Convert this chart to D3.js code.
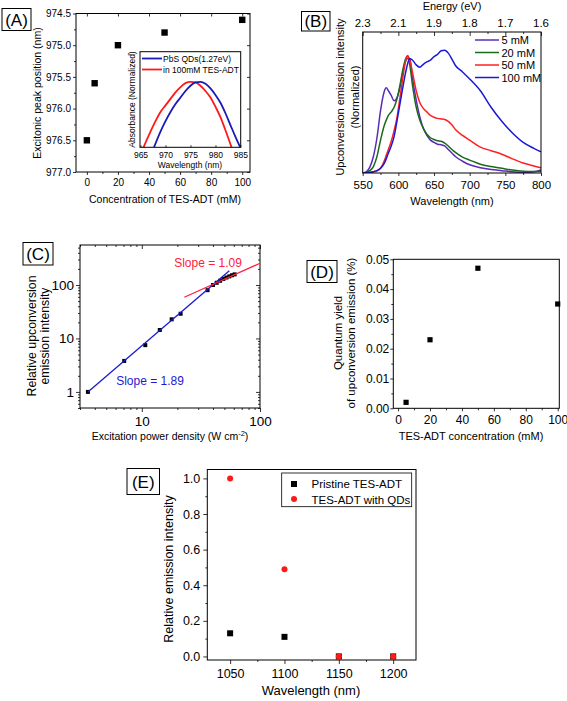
<!DOCTYPE html>
<html><head><meta charset="utf-8">
<script src="https://cdn.jsdelivr.net/npm/d3@7"></script>
<style>body{margin:0;background:#fff} svg{display:block}</style>
</head><body><svg id="c" width="567" height="701"></svg>
<script>
// ---------- DATA ----------
// (A) excitonic peak vs concentration
const aConc = [0, 5, 20, 50, 100];
const aPeak = [976.5, 975.6, 975.0, 974.8, 974.6];
const aXTicks = [0, 20, 40, 60, 80, 100];
const aYTicks = [974.5, 975.0, 975.5, 976.0, 976.5, 977.0];
// (A) inset absorbance
const insetBlueWl  = [967.7, 969, 970, 971, 972, 973, 974, 975, 976, 977, 978, 979, 980, 981, 982, 983, 984, 985.2];
const insetBlueAbs = [0.50, 0.62, 0.70, 0.77, 0.83, 0.88, 0.93, 0.97, 0.995, 1.0, 0.985, 0.95, 0.90, 0.84, 0.76, 0.67, 0.58, 0.48];
const insetRedWl   = [965.6, 967, 968, 969, 970, 971, 972, 973, 974, 975, 976, 977, 978, 979, 980, 981, 982, 983.4];
const insetRedAbs  = [0.50, 0.62, 0.70, 0.77, 0.82, 0.87, 0.92, 0.96, 0.99, 1.0, 0.995, 0.97, 0.93, 0.88, 0.81, 0.73, 0.63, 0.48];
const insetXTicks = [965, 970, 975, 980, 985];
const insetLegend = ["PbS QDs(1.27eV)", "in 100mM TES-ADT"];

// (B) upconversion emission spectra
const bWl = [550,555,560,565,570,575,580,583,586,590,594,598,602,606,610,613,616,620,625,630,635,640,645,650,655,660,665,670,675,680,690,700,715,730,745,760,775,790,800];
const b5mM   = [0.0,0.01,0.05,0.14,0.30,0.53,0.69,0.725,0.70,0.66,0.615,0.64,0.72,0.85,0.95,0.975,0.97,0.80,0.62,0.48,0.38,0.32,0.28,0.26,0.245,0.24,0.23,0.20,0.17,0.14,0.10,0.07,0.045,0.03,0.02,0.01,0.005,0.01,0.025];
const b20mM  = [0.0,0.005,0.02,0.055,0.14,0.28,0.40,0.45,0.49,0.52,0.56,0.63,0.74,0.87,0.97,0.995,0.92,0.74,0.56,0.45,0.38,0.33,0.30,0.285,0.275,0.27,0.255,0.23,0.20,0.175,0.135,0.11,0.075,0.055,0.04,0.025,0.015,0.012,0.015];
const b50mM  = [0.0,0.0,0.003,0.01,0.018,0.04,0.10,0.15,0.20,0.27,0.36,0.47,0.63,0.80,0.95,1.0,0.96,0.85,0.70,0.60,0.55,0.52,0.49,0.475,0.465,0.46,0.456,0.44,0.41,0.37,0.32,0.28,0.22,0.19,0.16,0.12,0.085,0.06,0.045];
const b100mM = [0.0,0.002,0.005,0.01,0.02,0.04,0.08,0.12,0.17,0.23,0.31,0.44,0.58,0.72,0.85,0.93,0.975,0.96,0.92,0.90,0.925,0.945,0.96,0.99,1.01,1.04,1.045,1.02,0.97,0.915,0.86,0.80,0.70,0.56,0.44,0.34,0.26,0.21,0.18];
const bSeriesNames = ["5 mM", "20 mM", "50 mM", "100 mM"];
const bColors = ["#5a2bb8", "#1b6a1b", "#ff2020", "#1a1ad6"];
const bXTicks = [550, 600, 650, 700, 750, 800];
const bEnergyLabels = ["2.3", "2.1", "1.9", "1.8", "1.7", "1.6"];
const bEnergyTickWl = [550, 600, 650, 700, 750, 800];

// (C) power dependence (log-log)
const cPower = [3.5, 7.1, 10.7, 14.2, 17.9, 21.3, 36, 40, 43, 46, 49, 52, 55, 58, 61];
const cInt   = [1, 3.8, 7.5, 14.4, 22.8, 29, 80, 100, 110, 120, 130, 138, 145, 152, 158];
const cFitLowX = [3.5, 55];
const cFitLowY = [1, 185];
const cFitHighX = [22.9, 100];
const cFitHighY = [59, 255];
const cXTicks = [10, 100];
const cYTicks = [1, 10, 100];

// (D) quantum yield
const dConc = [5, 20, 50, 100];
const dQY   = [0.002, 0.023, 0.047, 0.035];
const dXTicks = [0, 20, 40, 60, 80, 100];
const dYTicks = [0.00, 0.01, 0.02, 0.03, 0.04, 0.05];

// (E) relative emission intensity
const eWl = [1050, 1100, 1150, 1200];
const ePristine = [0.13, 0.11, 0.0, 0.0];
const eWithQDs  = [1.0, 0.49, 0.0, 0.0];
const eXTicks = [1050, 1100, 1150, 1200];
const eYTicks = [0.0, 0.2, 0.4, 0.6, 0.8, 1.0];
const eLegend = ["Pristine TES-ADT", "TES-ADT with QDs"];

// ---------- DRAWING ----------
const FONT = '"Liberation Sans", Arial, Helvetica, sans-serif';
const svg = d3.select("#c");
svg.append("rect").attr("width", 567).attr("height", 701).attr("fill", "#fff");

function axis(g, ax, tx, ty, fs) {
  const a = g.append("g").attr("transform", `translate(${tx},${ty})`).call(ax);
  a.select(".domain").remove();
  a.attr("font-family", FONT).attr("font-size", fs);
  a.selectAll("text").attr("fill", "#000");
  a.selectAll("line").attr("stroke", "#000").attr("stroke-width", 0.8);
  return a;
}
function frame(g, x0, y0, x1, y1) {
  g.append("rect").attr("x", x0).attr("y", y0).attr("width", x1 - x0).attr("height", y1 - y0)
    .attr("fill", "none").attr("stroke", "#000").attr("stroke-width", 1);
}
function text(g, x, y, s, fs, opts = {}) {
  const t = g.append("text").attr("x", x).attr("y", y).text(s)
    .attr("font-family", FONT).attr("font-size", fs).attr("fill", opts.fill || "#000")
    .attr("text-anchor", opts.anchor || "middle");
  if (opts.rot) t.attr("transform", `rotate(${opts.rot},${x},${y})`);
  return t;
}
function panelLabel(x0, y0, x1, y1, s) {
  svg.append("rect").attr("x", x0).attr("y", y0).attr("width", x1 - x0).attr("height", y1 - y0)
    .attr("fill", "#fff").attr("stroke", "#000").attr("stroke-width", 1);
  text(svg, (x0 + x1) / 2, (y0 + y1) / 2 + 6, s, 17);
}
function minor(ticks, step) {
  const out = [];
  for (let i = 0; i < ticks.length - 1; i++) out.push(ticks[i] + step);
  return out;
}

// ===== Panel A =====
{
  const g = svg.append("g");
  const x = d3.scaleLinear([-7, 105], [76, 250]);
  const y = d3.scaleLinear([974.5, 977.0], [13.5, 172]);
  axis(g, d3.axisBottom(x).tickValues(aXTicks).tickSize(3).tickPadding(4).tickFormat(d3.format("d")), 0, 172, 10);
  axis(g, d3.axisBottom(x).tickValues(minor(aXTicks, 10)).tickSize(2).tickFormat(""), 0, 172, 10);
  axis(g, d3.axisBottom(x).tickValues(aXTicks).tickSize(3).tickFormat(""), 0, 13.5, 10);
  axis(g, d3.axisLeft(y).tickValues(aYTicks).tickSize(3).tickPadding(2).tickFormat(d3.format(".1f")), 76, 0, 10);
  axis(g, d3.axisLeft(y).tickValues(minor(aYTicks, 0.25)).tickSize(2).tickFormat(""), 76, 0, 10);
  axis(g, d3.axisLeft(y).tickValues(aYTicks).tickSize(3).tickFormat(""), 250, 0, 10);
  frame(g, 76, 13.5, 250, 172);
  g.selectAll("rect.pa").data(aConc).join("rect").attr("class", "pa")
    .attr("x", (d) => x(d) - 3.2).attr("y", (d, i) => y(aPeak[i]) - 3.2)
    .attr("width", 6.4).attr("height", 6.4).attr("fill", "#000");
  text(g, 165, 203, "Concentration of TES-ADT (mM)", 10.5);
  text(g, 41, 93, "Excitonic peak position (nm)", 10.5, { rot: -90 });

  // inset
  const xi = d3.scaleLinear([964.9, 985.05], [140, 240.7]);
  const yi = d3.scaleLinear([0.5, 1.23], [147.3, 51.7]);
  g.append("clipPath").attr("id", "clipI").append("rect")
    .attr("x", 140).attr("y", 51.7).attr("width", 100.7).attr("height", 95.6);
  g.append("rect").attr("x", 140).attr("y", 51.7).attr("width", 100.7).attr("height", 95.6).attr("fill", "#fff");
  const ln = d3.line().curve(d3.curveMonotoneX);
  g.append("path").attr("clip-path", "url(#clipI)")
    .attr("d", ln(insetRedWl.map((w, i) => [xi(w), yi(insetRedAbs[i])])))
    .attr("fill", "none").attr("stroke", "#ff1a1a").attr("stroke-width", 1.8);
  g.append("path").attr("clip-path", "url(#clipI)")
    .attr("d", ln(insetBlueWl.map((w, i) => [xi(w), yi(insetBlueAbs[i])])))
    .attr("fill", "none").attr("stroke", "#1a1ab8").attr("stroke-width", 1.8);
  axis(g, d3.axisTop(xi).tickValues(insetXTicks).tickSize(2).tickFormat(""), 0, 147.3, 8.5);
  axis(g, d3.axisBottom(xi).tickValues(insetXTicks).tickSize(0).tickPadding(5).tickFormat(d3.format("d")), 0, 147.3, 8.5);
  frame(g, 140, 51.7, 240.7, 147.3);
  text(g, 190, 167.5, "Wavelength (nm)", 8.5);
  text(g, 134.5, 99.5, "Absorbance (Normalized)", 8.5, { rot: -90 });
  const lc = ["#1a1ab8", "#ff1a1a"];
  insetLegend.forEach((s, i) => {
    const yy = 58.5 + i * 11;
    g.append("line").attr("x1", 142).attr("x2", 162).attr("y1", yy).attr("y2", yy)
      .attr("stroke", lc[i]).attr("stroke-width", 1.8);
    text(g, 163, yy + 3, s, 8.5, { anchor: "start" });
  });
}
panelLabel(2, 8.5, 31, 30.5, "(A)");

// ===== Panel B =====
{
  const g = svg.append("g");
  const x = d3.scaleLinear([550, 800], [362.7, 541]);
  const y = d3.scaleLinear([0, 1.2], [173, 32]);
  g.append("clipPath").attr("id", "clipB").append("rect")
    .attr("x", 362.7).attr("y", 32).attr("width", 178.3).attr("height", 141);
  const series = [b5mM, b20mM, b50mM, b100mM];
  const ln = d3.line().curve(d3.curveMonotoneX);
  series.forEach((s, k) => {
    g.append("path").attr("clip-path", "url(#clipB)")
      .attr("d", ln(bWl.map((w, i) => [x(w), y(s[i])])))
      .attr("fill", "none").attr("stroke", bColors[k]).attr("stroke-width", 1.5);
  });
  axis(g, d3.axisBottom(x).tickValues(bXTicks).tickSize(3).tickPadding(5).tickFormat(d3.format("d")), 0, 173, 11.5);
  axis(g, d3.axisBottom(x).tickValues(minor(bXTicks, 25)).tickSize(2).tickFormat(""), 0, 173, 11.5);
  const top = d3.axisBottom(x).tickValues(bEnergyTickWl).tickSize(4).tickFormat("");
  axis(g, top, 0, 32, 11.5);
  axis(g, d3.axisBottom(x).tickValues(minor(bEnergyTickWl, 25)).tickSize(2).tickFormat(""), 0, 32, 11.5);
  g.selectAll("text.et").data(bEnergyTickWl).join("text").attr("class", "et")
    .attr("x", (d) => x(d)).attr("y", 26.5).text((d, i) => bEnergyLabels[i])
    .attr("font-family", FONT).attr("font-size", 11.5).attr("text-anchor", "middle");
  frame(g, 362.7, 32, 541, 173);
  text(g, 452, 10, "Energy (eV)", 11);
  text(g, 452, 205, "Wavelength (nm)", 11);
  text(g, 344, 97, "Upconversion emission intensity", 11, { rot: -90 });
  text(g, 359, 97, "(Normalized)", 11, { rot: -90 });
  bSeriesNames.forEach((s, i) => {
    const yy = 40 + i * 12.5;
    g.append("line").attr("x1", 475).attr("x2", 499).attr("y1", yy).attr("y2", yy)
      .attr("stroke", bColors[i]).attr("stroke-width", 1.5);
    text(g, 501.5, yy + 4, s, 11, { anchor: "start" });
  });
}
panelLabel(301.5, 11.5, 330, 31, "(B)");

// ===== Panel C =====
{
  const g = svg.append("g");
  const x = d3.scaleLog([3, 100], [80, 260]);
  const y = d3.scaleLog([0.5, 560], [408, 245]);
  const xMinor = [3, 4, 5, 6, 7, 8, 9, 20, 30, 40, 50, 60, 70, 80, 90];
  const yMinor = [0.5, 0.6, 0.7, 0.8, 0.9, 2, 3, 4, 5, 6, 7, 8, 9, 20, 30, 40, 50, 60, 70, 80, 90, 200, 300, 400, 500];
  axis(g, d3.axisBottom(x).tickValues(cXTicks).tickSize(4).tickPadding(4).tickFormat(d3.format("d")), 0, 408, 13.5);
  axis(g, d3.axisBottom(x).tickValues(xMinor).tickSize(2).tickFormat(""), 0, 408, 13.5);
  axis(g, d3.axisBottom(x).tickValues(cXTicks).tickSize(4).tickFormat(""), 0, 245, 13.5);
  axis(g, d3.axisBottom(x).tickValues(xMinor).tickSize(2).tickFormat(""), 0, 245, 13.5);
  axis(g, d3.axisLeft(y).tickValues(cYTicks).tickSize(4).tickPadding(2).tickFormat(d3.format("d")), 80, 0, 13.5);
  axis(g, d3.axisLeft(y).tickValues(yMinor).tickSize(2).tickFormat(""), 80, 0, 13.5);
  axis(g, d3.axisLeft(y).tickValues(cYTicks).tickSize(4).tickFormat(""), 260, 0, 13.5);
  axis(g, d3.axisLeft(y).tickValues(yMinor).tickSize(2).tickFormat(""), 260, 0, 13.5);
  frame(g, 80, 245, 260, 408);
  g.selectAll("rect.pc").data(cPower).join("rect").attr("class", "pc")
    .attr("x", (d) => x(d) - 2).attr("y", (d, i) => y(cInt[i]) - 2)
    .attr("width", 4).attr("height", 4).attr("fill", "#000");
  g.append("line").attr("x1", x(cFitLowX[0])).attr("y1", y(cFitLowY[0]))
    .attr("x2", x(cFitLowX[1])).attr("y2", y(cFitLowY[1])).attr("stroke", "#1a1ad6").attr("stroke-width", 1.3);
  g.append("line").attr("x1", x(cFitHighX[0])).attr("y1", y(cFitHighY[0]))
    .attr("x2", x(cFitHighX[1])).attr("y2", y(cFitHighY[1])).attr("stroke", "#ff2040").attr("stroke-width", 1.3);
  text(g, 208, 266.5, "Slope = 1.09", 12, { fill: "#ff2040" });
  text(g, 150, 385, "Slope = 1.89", 12, { fill: "#1a1ad6" });
  const t = text(g, 170, 439.5, "Excitation power density (W cm", 10.5);
  t.append("tspan").attr("dy", -4).attr("font-size", 7.5).text("-2");
  t.append("tspan").attr("dy", 4).text(")");
  text(g, 36, 336, "Relative upconversion", 12.3, { rot: -90 });
  text(g, 49, 336, "emission intensity", 12.3, { rot: -90 });
}
panelLabel(23, 242.5, 53, 265, "(C)");

// ===== Panel D =====
{
  const g = svg.append("g");
  const x = d3.scaleLinear([-3, 101], [393.3, 559.3]);
  const y = d3.scaleLinear([0, 0.05], [408.3, 259.3]);
  axis(g, d3.axisBottom(x).tickValues(dXTicks).tickSize(3).tickPadding(4).tickFormat(d3.format("d")), 0, 408.3, 12);
  axis(g, d3.axisBottom(x).tickValues(minor(dXTicks, 10)).tickSize(2).tickFormat(""), 0, 408.3, 12);
  axis(g, d3.axisLeft(y).tickValues(dYTicks).tickSize(3).tickPadding(1).tickFormat(d3.format(".2f")), 393.3, 0, 12);
  axis(g, d3.axisLeft(y).tickValues(minor(dYTicks, 0.005)).tickSize(2).tickFormat(""), 393.3, 0, 12);
  frame(g, 393.3, 259.3, 559.3, 408.3);
  g.selectAll("rect.pd").data(dConc).join("rect").attr("class", "pd")
    .attr("x", (d) => x(d) - 2.6).attr("y", (d, i) => y(dQY[i]) - 2.6)
    .attr("width", 5.2).attr("height", 5.2).attr("fill", "#000");
  text(g, 471, 439.5, "TES-ADT concentration (mM)", 11);
  text(g, 342, 333, "Quantum yield", 11.5, { rot: -90 });
  text(g, 355, 333, "of upconversion emission (%)", 11.5, { rot: -90 });
}
panelLabel(307, 260.5, 337, 282.5, "(D)");

// ===== Panel E =====
{
  const g = svg.append("g");
  const x = d3.scaleLinear([1029, 1221], [207.3, 416]);
  const y = d3.scaleLinear([-0.02, 1.05], [660, 469.5]);
  axis(g, d3.axisBottom(x).tickValues(eXTicks).tickSize(4).tickPadding(5).tickFormat(d3.format("d")), 0, 660, 12.5);
  axis(g, d3.axisBottom(x).tickValues(minor(eXTicks, 25)).tickSize(2).tickFormat(""), 0, 660, 12.5);
  axis(g, d3.axisLeft(y).tickValues(eYTicks).tickSize(4).tickPadding(3).tickFormat(d3.format(".1f")), 207.3, 0, 12.5);
  axis(g, d3.axisLeft(y).tickValues(minor(eYTicks, 0.1)).tickSize(2).tickFormat(""), 207.3, 0, 12.5);
  frame(g, 207.3, 469.5, 416, 660);
  g.selectAll("rect.pe").data(eWl).join("rect").attr("class", "pe")
    .attr("x", (d) => x(d) - 3).attr("y", (d, i) => y(ePristine[i]) - 3)
    .attr("width", 6).attr("height", 6).attr("fill", "#000");
  g.selectAll("circle.pe").data(eWl).join("circle").attr("class", "pe")
    .attr("cx", (d) => x(d)).attr("cy", (d, i) => y(eWithQDs[i])).attr("r", 3)
    .attr("fill", "#ff1a1a");
  g.append("rect").attr("x", 281.7).attr("y", 473).attr("width", 130).attr("height", 33.7)
    .attr("fill", "#fff").attr("stroke", "#000").attr("stroke-width", 0.8);
  g.append("rect").attr("x", 291).attr("y", 481).attr("width", 6).attr("height", 6).attr("fill", "#000");
  g.append("circle").attr("cx", 294).attr("cy", 499).attr("r", 3).attr("fill", "#ff1a1a");
  text(g, 311.5, 488, eLegend[0], 11.5, { anchor: "start" });
  text(g, 311.5, 503.5, eLegend[1], 11.5, { anchor: "start" });
  text(g, 311, 695, "Wavelength (nm)", 13);
  text(g, 172.5, 569, "Relative emission intensity", 12.5, { rot: -90 });
}
panelLabel(127, 468.5, 159.5, 494.5, "(E)");
</script>
</body></html>
